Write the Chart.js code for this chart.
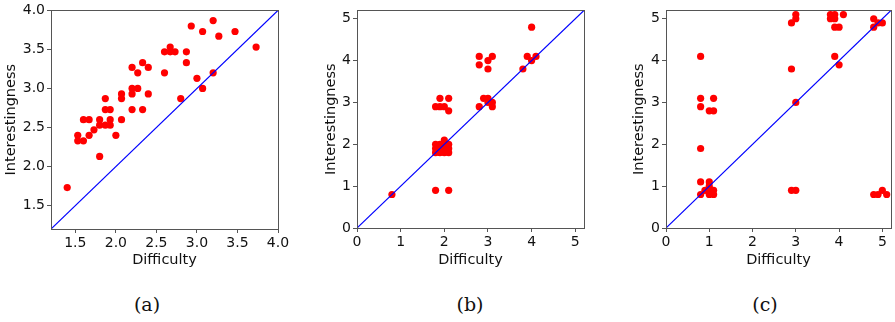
<!DOCTYPE html>
<html>
<head>
<meta charset="utf-8">
<script src="https://cdn.jsdelivr.net/npm/chart.js@4.4.1/dist/chart.umd.min.js"></script>
<style>
  body { margin: 0; background: #fff; width: 895px; height: 322px; position: relative; overflow: hidden; }
  .panel { position: absolute; top: 0; width: 295px; height: 280px; }
  .cap { position: absolute; top: 292px; line-height: 24px; font-family: "DejaVu Serif", "Liberation Serif", serif; font-size: 19px; color: #111; transform: translateX(-50%); }
</style>
</head>
<body>
<div class="panel" style="left:0"><canvas id="chartA" width="295" height="280"></canvas></div>
<div class="panel" style="left:300px"><canvas id="chartB" width="295" height="280"></canvas></div>
<div class="panel" style="left:600px"><canvas id="chartC" width="295" height="280"></canvas></div>
<div class="cap" style="left:147px">(a)</div>
<div class="cap" style="left:470px">(b)</div>
<div class="cap" style="left:765px">(c)</div>
<script>
// panel (a)
const diffA = [1.4, 1.53, 1.53, 1.6, 1.6, 1.67, 1.67, 1.73, 1.8, 1.8, 1.8, 1.87, 1.87, 1.87, 1.93, 1.93, 1.93, 2.0, 2.07, 2.07, 2.07,
    2.2, 2.2, 2.2, 2.2, 2.27, 2.27, 2.33, 2.33, 2.4, 2.4, 2.6, 2.6, 2.67, 2.67, 2.73, 2.8, 2.87, 2.87, 2.93, 3.0, 3.07, 3.07,
    3.2, 3.2, 3.27, 3.47, 3.73];
const interestA = [1.73, 2.4, 2.33, 2.33, 2.6, 2.6, 2.4, 2.47, 2.6, 2.53, 2.13, 2.87, 2.73, 2.53, 2.73, 2.6, 2.53, 2.4, 2.6, 2.93, 2.87,
    3.27, 3.0, 2.93, 2.73, 3.2, 3.0, 3.33, 2.73, 3.27, 2.93, 3.47, 3.2, 3.53, 3.47, 3.47, 2.87, 3.47, 3.33, 3.8, 3.13, 3.73, 3.0,
    3.87, 3.2, 3.67, 3.73, 3.53];
const rangeA = [1.2, 4.0];
const ticksA = [1.5, 2.0, 2.5, 3.0, 3.5, 4.0];

// panel (b)
const diffB = [0.8, 1.8, 2.1,
    1.8, 1.9, 2.0, 2.1, 1.8, 1.9, 2.0, 2.1, 1.8, 1.9, 2.0, 2.1, 2.0,
    1.8, 1.9, 1.9, 2.0, 2.1, 2.1,
    2.8, 2.8, 2.8, 2.9, 3.0, 3.0, 3.0, 3.0, 3.1, 3.1, 3.1,
    3.8, 3.9, 4.0, 4.0, 4.1];
const interestB = [0.8, 0.9, 0.9,
    1.8, 1.8, 1.8, 1.8, 1.9, 1.9, 1.9, 1.9, 2.0, 2.0, 2.0, 2.0, 2.1,
    2.9, 3.1, 2.9, 2.9, 3.1, 2.8,
    4.1, 3.9, 2.9, 3.1, 4.0, 3.8, 3.1, 3.0, 4.1, 3.0, 2.9,
    3.8, 4.1, 4.8, 4.0, 4.1];

// panel (c)
const diffC = [0.8, 0.8, 0.8, 0.8, 0.8, 0.8, 0.9, 1.0, 1.0, 1.0, 1.0, 1.0, 1.1, 1.1, 1.1, 1.1,
    2.9, 2.9, 2.9, 3.0, 3.0, 3.0, 3.0,
    3.8, 3.8, 3.9, 3.9, 3.9, 3.9, 4.0, 4.0, 4.1,
    4.8, 4.8, 4.8, 4.9, 4.9, 5.0, 5.0, 5.1];
const interestC = [4.1, 3.1, 2.9, 1.9, 1.1, 0.8, 0.9, 1.1, 1.0, 0.9, 0.8, 2.8, 3.1, 2.8, 0.9, 0.8,
    4.9, 3.8, 0.9, 5.1, 5.0, 3.0, 0.9,
    5.1, 5.0, 5.1, 5.0, 4.8, 4.1, 4.8, 3.9, 5.1,
    5.0, 4.8, 0.8, 4.9, 0.8, 4.9, 0.9, 0.8];

const rangeBC = [0, 5.2];
const ticksBC = [0, 1, 2, 3, 4, 5];

const FONT = '"DejaVu Sans", Verdana, sans-serif';
const AXIS_COLOR = '#555';

const framePlugin = {
    id: 'frame',
    afterDraw(chart) {
        const { ctx, chartArea: a } = chart;
        ctx.save();
        ctx.strokeStyle = AXIS_COLOR;
        ctx.lineWidth = 1;
        ctx.strokeRect(Math.round(a.left) + 0.5, Math.round(a.top) + 0.5,
            Math.round(a.right - a.left), Math.round(a.bottom - a.top));
        ctx.restore();
    }
};

function axis (range, tickVals, decimals, title, titlePad, fitFn) {
    return {
        type: 'linear',
        min: range[0],
        max: range[1],
        afterBuildTicks: s => { s.ticks = tickVals.map(v => ({ value: v })); },
        afterFit: fitFn,
        ticks: {
            callback: v => v.toFixed(decimals),
            font: { family: FONT, size: 14 },
            color: '#111',
            padding: 2,
            maxRotation: 0,
            autoSkip: false
        },
        grid: {
            drawOnChartArea: false,
            drawTicks: true,
            tickLength: 4,
            tickColor: AXIS_COLOR
        },
        border: { color: AXIS_COLOR, width: 1 },
        title: {
            display: true,
            text: title,
            font: { family: FONT, size: 14.5 },
            color: '#111',
            padding: titlePad
        }
    };
}

function makePanel (id, xs, ys, range, tickVals, decimals, geom) {
    const points = xs.map((x, i) => ({ x: x, y: ys[i] }));
    new Chart(document.getElementById(id), {
        type: 'scatter',
        plugins: [framePlugin],
        data: {
            datasets: [
                {
                    type: 'line',
                    data: range.map(v => ({ x: v, y: v })),
                    borderColor: '#0000ff',
                    borderWidth: 1.2,
                    pointRadius: 0,
                    fill: false
                },
                {
                    data: points,
                    backgroundColor: '#ff0000',
                    borderWidth: 0,
                    pointRadius: 3.6
                }
            ]
        },
        options: {
            responsive: false,
            animation: false,
            devicePixelRatio: 1,
            layout: { padding: { top: geom.top, right: geom.right, left: 0, bottom: 0 } },
            plugins: {
                legend: { display: false },
                tooltip: { enabled: false }
            },
            scales: {
                x: axis(range, tickVals, decimals, 'Difficulty', { top: 0, bottom: 11 },
                    s => { s.height = 280 - geom.bottom; }),
                y: axis(range, tickVals, decimals, 'Interestingness', { top: geom.yTitle, bottom: 0 },
                    s => { s.width = geom.left; })
            }
        }
    });
}

makePanel('chartA', diffA, interestA, rangeA, ticksA, 1, { left: 51, right: 17, top: 7, bottom: 229, yTitle: 3 });
makePanel('chartB', diffB, interestB, rangeBC, ticksBC, 0, { left: 57, right: 11, top: 6, bottom: 228, yTitle: 23 });
makePanel('chartC', diffC, interestC, rangeBC, ticksBC, 0, { left: 66, right: 2, top: 6, bottom: 228, yTitle: 31 });
</script>
</body>
</html>
